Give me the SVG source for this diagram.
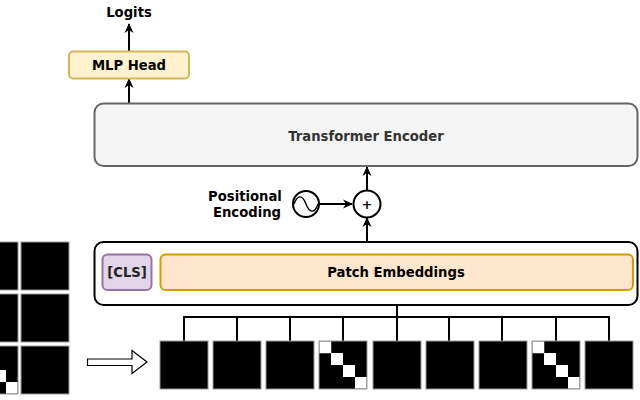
<svg xmlns="http://www.w3.org/2000/svg" width="640" height="400" viewBox="0 0 640 400">
<defs>
<marker id="ah" viewBox="0 0 10 10" refX="9" refY="5" markerWidth="10" markerHeight="10" markerUnits="userSpaceOnUse" orient="auto">
<path d="M0,0.5 L10,5 L0,9.5 L3,5 Z" fill="#000"/>
</marker>
<g id="patch"><rect x="0" y="0" width="48" height="48" fill="#000" stroke="#999" stroke-width="1"/></g>
<g id="diag">
<rect x="0" y="0" width="48" height="48" fill="#000" stroke="#999" stroke-width="1"/>
<rect x="0.5" y="0.5" width="11.75" height="11.75" fill="#fff"/>
<rect x="12" y="12" width="12" height="12" fill="#fff"/>
<rect x="24" y="24" width="12" height="12" fill="#fff"/>
<rect x="36" y="36" width="11.5" height="11.5" fill="#fff"/>
</g>
</defs>
<style>
.t{font-family:"DejaVu Sans","Liberation Sans",sans-serif;font-weight:bold;font-size:13.2px;text-anchor:middle;fill:#000}
.ln{fill:none;stroke:#000;stroke-width:2}
</style>
<rect width="640" height="400" fill="#fff"/>

<g id="connectors">
<line class="ln" x1="129" y1="51" x2="129" y2="24" marker-end="url(#ah)"/>
<line class="ln" x1="129" y1="103" x2="129" y2="79" marker-end="url(#ah)"/>
<line class="ln" x1="367" y1="190" x2="367" y2="167" marker-end="url(#ah)"/>
<line class="ln" x1="319" y1="204" x2="352" y2="204" marker-end="url(#ah)"/>
<line class="ln" x1="367" y1="242" x2="367" y2="218" marker-end="url(#ah)"/>
<polyline class="ln" points="184,342 184,317 609,317 609,342"/>
<line class="ln" x1="237" y1="317" x2="237" y2="342"/>
<line class="ln" x1="290" y1="317" x2="290" y2="342"/>
<line class="ln" x1="343" y1="317" x2="343" y2="342"/>
<line class="ln" x1="449" y1="317" x2="449" y2="342"/>
<line class="ln" x1="502" y1="317" x2="502" y2="342"/>
<line class="ln" x1="556" y1="317" x2="556" y2="342"/>
<line class="ln" x1="397" y1="342" x2="397" y2="291" marker-end="url(#ah)"/>
<path d="M87.5,359 L132,359 L132,350.5 L147,362 L132,373.5 L132,365.5 L87.5,365.5 Z" fill="#fff" stroke="#000" stroke-width="1.2"/>
</g>

<g id="logits"><text class="t" x="129" y="17">Logits</text></g>

<g id="mlp-head">
<rect x="69" y="51.5" width="120" height="27" rx="4" fill="#fff2cc" stroke="#d6b656" stroke-width="2"/>
<text class="t" x="129" y="70">MLP Head</text>
</g>

<g id="transformer-encoder">
<rect x="94.5" y="103.5" width="543" height="62.5" rx="9" fill="#f5f5f5" stroke="#666" stroke-width="2"/>
<text class="t" x="366" y="141" style="fill:#333">Transformer Encoder</text>
</g>

<g id="positional-encoding">
<text class="t" x="245" y="201">Positional</text>
<text class="t" x="247" y="217">Encoding</text>
<circle cx="306" cy="204" r="13" fill="#fff" stroke="#000" stroke-width="2"/>
<path d="M294,204 C298,193 303,196 306,204 C309,212 314,215 318,204" fill="none" stroke="#000" stroke-width="1.4"/>
</g>

<g id="add">
<circle cx="367" cy="204" r="13.5" fill="#fff" stroke="#000" stroke-width="2"/>
<text x="367" y="209" style="font-family:'DejaVu Sans',sans-serif;font-size:13px;font-weight:bold;text-anchor:middle;fill:#000">+</text>
</g>

<g id="embeddings">
<rect x="94.5" y="242" width="543" height="63" rx="9" fill="#fff" stroke="#000" stroke-width="2"/>
</g>
<g id="cls">
<rect x="102.5" y="254.5" width="49" height="35.5" rx="5" fill="#e1d5e7" stroke="#9673a6" stroke-width="2"/>
<text class="t" x="127" y="277" style="fill:#222">[CLS]</text>
</g>
<g id="patch-embeddings">
<rect x="160.5" y="254.5" width="472.5" height="35.5" rx="5" fill="#ffe6cc" stroke="#d79b00" stroke-width="2"/>
<text class="t" x="396" y="277">Patch Embeddings</text>
</g>

<g id="image-grid">
<use href="#patch" x="-30" y="242"/>
<use href="#patch" x="21" y="242"/>
<use href="#patch" x="-30" y="294"/>
<use href="#patch" x="21" y="294"/>
<use href="#diag" x="-30" y="346"/>
<use href="#patch" x="21" y="346"/>
</g>

<g id="patches">
<use href="#patch" x="160" y="341"/>
<use href="#patch" x="213" y="341"/>
<use href="#patch" x="266" y="341"/>
<use href="#diag" x="319" y="341"/>
<use href="#patch" x="373" y="341"/>
<use href="#patch" x="426" y="341"/>
<use href="#patch" x="479" y="341"/>
<use href="#diag" x="532" y="341"/>
<use href="#patch" x="585" y="341"/>
</g>
</svg>
